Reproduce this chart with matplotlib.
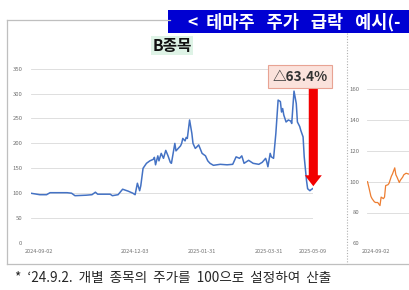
import matplotlib
matplotlib.use("Agg")
import matplotlib.pyplot as plt
import matplotlib.dates as mdates
from matplotlib.lines import Line2D
from matplotlib.patches import Rectangle
from matplotlib.transforms import ScaledTranslation
import pandas as pd

plt.rcParams['font.family'] = ['Noto Sans CJK KR', 'DejaVu Sans']

# B종목 (2024-09-02 = 100)
b_dates = [
    '2024-09-02', '2024-09-10', '2024-09-16', '2024-09-19', '2024-09-26', '2024-10-04',
    '2024-10-08', '2024-10-11', '2024-10-21', '2024-10-26', '2024-10-29', '2024-10-31',
    '2024-11-11', '2024-11-13', '2024-11-18', '2024-11-22', '2024-11-27', '2024-12-01',
    '2024-12-03', '2024-12-05', '2024-12-07', '2024-12-08', '2024-12-10', '2024-12-13',
    '2024-12-16', '2024-12-19', '2024-12-20', '2024-12-21', '2024-12-23', '2024-12-24',
    '2024-12-26', '2024-12-28', '2024-12-30', '2025-01-01', '2025-01-03', '2025-01-04',
    '2025-01-07', '2025-01-08', '2025-01-12', '2025-01-13', '2025-01-14', '2025-01-16',
    '2025-01-17', '2025-01-18', '2025-01-20', '2025-01-22', '2025-01-23', '2025-01-25',
    '2025-01-26', '2025-01-28', '2025-01-31', '2025-02-03', '2025-02-05', '2025-02-07',
    '2025-02-10', '2025-02-16', '2025-02-22', '2025-02-27', '2025-03-02', '2025-03-05',
    '2025-03-07', '2025-03-09', '2025-03-13', '2025-03-17', '2025-03-22', '2025-03-25',
    '2025-03-28', '2025-03-29', '2025-03-30', '2025-04-01', '2025-04-02', '2025-04-04',
    '2025-04-06', '2025-04-08', '2025-04-10', '2025-04-11', '2025-04-12', '2025-04-13',
    '2025-04-15', '2025-04-17', '2025-04-19', '2025-04-20', '2025-04-21', '2025-04-22',
    '2025-04-24', '2025-04-25', '2025-04-27', '2025-04-28', '2025-04-30', '2025-05-01',
    '2025-05-03', '2025-05-04', '2025-05-06', '2025-05-07', '2025-05-09',
]
b_values = [
    100, 97, 97, 101, 101, 101,
    100, 95, 96, 97, 102, 98,
    98, 95, 97, 108, 104, 100,
    97, 120, 105, 115, 150, 160,
    165, 168, 172, 157, 175, 165,
    180, 170, 186, 175, 162, 160,
    200, 185, 195, 200, 210, 205,
    212, 210, 247, 220, 200, 190,
    192, 197, 180, 175, 165, 160,
    156, 158, 157, 158, 173, 170,
    175, 160, 166, 160, 158, 162,
    170, 163, 153, 180, 173, 170,
    220, 287, 284, 263, 270, 257,
    243, 247, 245, 240, 273, 305,
    280, 243, 234, 226, 213, 173,
    126, 109, 105, 107, 110,
]

# second stock (only the start is visible)
c_dates = [
    '2024-09-02', '2024-09-03', '2024-09-05', '2024-09-06', '2024-09-08', '2024-09-09',
    '2024-09-11', '2024-09-12', '2024-09-13', '2024-09-14', '2024-09-16', '2024-09-17',
    '2024-09-18', '2024-09-20', '2024-09-21', '2024-09-23', '2024-09-24', '2024-09-26',
    '2024-09-27', '2024-09-28', '2024-09-30', '2024-10-01', '2024-10-03', '2024-10-04',
    '2024-10-06', '2024-10-08', '2024-10-09',
]
c_values = [
    100, 97, 90.5, 89, 87, 86.5,
    86.5, 85.5, 84.5, 90, 89, 90,
    97.5, 98, 99, 103.5, 105, 109,
    104.5, 103, 99.5, 101, 103, 104.5,
    105.5, 105, 105,
]

tick_dates = ['2024-09-02', '2024-12-03', '2025-01-31', '2025-03-31', '2025-05-09']
b_yticks = [0, 50, 100, 150, 200, 250, 300, 350]
c_yticks = [60, 80, 100, 120, 140, 160]
drop_label = '△63.4%'

b_x = pd.to_datetime(b_dates)
c_x = pd.to_datetime(c_dates)
ticks = pd.to_datetime(tick_dates)

W, H = 410, 290
fig = plt.figure(figsize=(W / 100, H / 100), dpi=100)
fig.patch.set_facecolor('white')


def fx(px):
    return px / W


def fy(py):
    return 1 - py / H


def style_axis(ax, yticks, xticks):
    ax.set_xlim(ticks[0], ticks[-1])
    ax.set_ylim(yticks[0], yticks[-1])
    ax.set_yticks(yticks)
    ax.set_xticks(xticks)
    ax.xaxis.set_major_formatter(mdates.DateFormatter('%Y-%m-%d'))
    ax.grid(axis='y', color='#d9d9d9', lw=0.6)
    ax.set_axisbelow(True)
    for s in ax.spines.values():
        s.set_visible(False)
    ax.tick_params(axis='y', length=0, pad=6, labelsize=4.3, labelcolor='#707070')
    ax.tick_params(axis='x', length=0, pad=4, labelsize=4.0, labelcolor='#707070')
    ax.set_facecolor('none')
    lab = ax.get_xticklabels()[0]
    lab.set_transform(lab.get_transform() + ScaledTranslation(0.085, 0, fig.dpi_scale_trans))


# left panel
ax = fig.add_axes([fx(30.7), fy(243), fx(313.3) - fx(30.7), fy(68.7) - fy(243)])
ax.plot(b_x, b_values, color='#4472c4', lw=1.1)
style_axis(ax, b_yticks, ticks)

# drop arrow and label
last_x = mdates.date2num(b_x[-1])
top_y = max(b_values) + 7
tip_y = b_values[-1] + 4
ax.arrow(last_x, top_y, 0, tip_y - top_y, width=8, head_width=15, head_length=22,
         length_includes_head=True, color='#f20000', lw=0, clip_on=False, zorder=5)
ax.text(mdates.date2num(pd.Timestamp('2025-04-27')), 334, drop_label, ha='center', va='center',
        fontsize=9.8, fontweight='bold', color='#333333', zorder=6,
        bbox=dict(boxstyle='square,pad=0.33', facecolor='#fbe2dc', edgecolor='#e8a393', lw=0.8))

# right panel (cut off at the edge, only its first label is visible)
ax2 = fig.add_axes([fx(367.5), fy(243.3), fx(313.3) - fx(30.7), fy(89.3) - fy(243.3)])
ax2.plot(c_x, c_values, color='#ed7d31', lw=0.9)
style_axis(ax2, c_yticks, ticks[:1])

# frame
grey = '#bfbfbf'
fig.add_artist(Line2D([fx(7), fx(170)], [fy(20), fy(20)], color=grey, lw=0.9))
fig.add_artist(Line2D([fx(7), fx(7)], [fy(20), fy(264)], color=grey, lw=0.9))
fig.add_artist(Line2D([fx(7), fx(410)], [fy(264), fy(264)], color=grey, lw=0.9))
fig.add_artist(Line2D([fx(347), fx(347)], [fy(33), fy(264)], color='#b0b0b0', lw=0.8, ls=(0, (1, 1.5))))

# header bar
fig.add_artist(Rectangle((fx(168), fy(33)), 1 - fx(168), fy(10) - fy(33), facecolor='#0000d2',
                         edgecolor='none'))
fig.text(fx(188), fy(22), '<  테마주   주가   급락   예시(-', color='white', fontsize=12.6,
         fontweight='bold', ha='left', va='center')

fig.text(fx(172), fy(45.5), 'B종목', fontsize=11.3, fontweight='bold', color='#111111',
         ha='center', va='center',
         bbox=dict(boxstyle='square,pad=0.1', facecolor='#def3e6', edgecolor='none'))

fig.text(fx(15), fy(278), '*  ‘24.9.2.  개별  종목의  주가를  100으로  설정하여  산출', fontsize=9.8,
         color='#262626', ha='left', va='center')

fig.savefig('out.png', dpi=100)
